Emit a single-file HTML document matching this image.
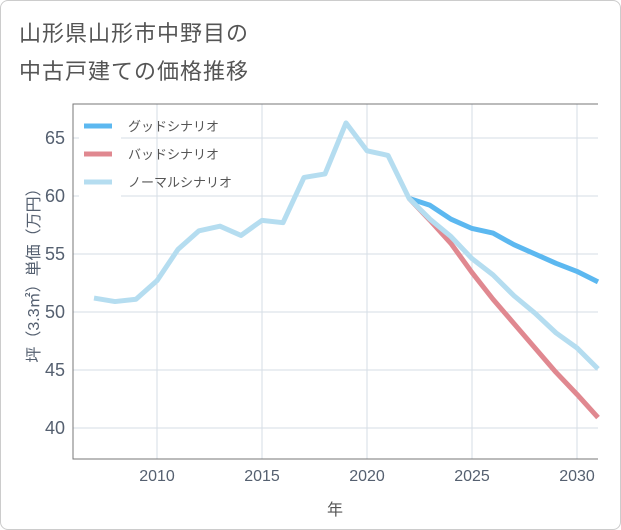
<!DOCTYPE html>
<html><head><meta charset="utf-8"><style>
body{margin:0;background:#fff;font-family:"Liberation Sans","Noto Sans CJK JP",sans-serif;}
#wrap{position:relative;width:619px;height:528px;border:1px solid #ccc;border-radius:8px;background:#fff;overflow:hidden}
.t{position:absolute;left:18px;color:#555;font-size:22px;letter-spacing:1px}
</style></head><body>
<div id="wrap">
<div class="t" style="top:15px">山形県山形市中野目の</div>
<div class="t" style="top:53px">中古戸建ての価格推移</div>
<svg id="c" width="621" height="530" style="position:absolute;left:0;top:0"></svg>
</div>
<script>
const years=[2007,2008,2009,2010,2011,2012,2013,2014,2015,2016,2017,2018,2019,2020,2021,2022,2023,2024,2025,2026,2027,2028,2029,2030,2031];
const normal=[51.2,50.9,51.1,52.7,55.4,57.0,57.4,56.6,57.9,57.7,61.6,61.9,66.3,63.9,63.5,59.8,58.0,56.5,54.6,53.2,51.4,49.9,48.2,46.9,45.1];
const goodYears=[2022,2023,2024,2025,2026,2027,2028,2029,2030,2031];
const good=[59.8,59.2,58.0,57.2,56.8,55.8,55.0,54.2,53.5,52.6];
const bad=[59.8,57.9,55.9,53.4,51.1,49.0,46.9,44.8,42.9,40.9];
const xTicks=[2010,2015,2020,2025,2030];
const yTicks=[40,45,50,55,60,65];
const NS='http://www.w3.org/2000/svg';
const svg=document.getElementById('c');
const L=72,R=597,T=103,B=458;
const x=y=>156+(y-2010)*21;
const yv=v=>195-(v-60)*11.6;
function mk(t,a){const e=document.createElementNS(NS,t);for(const k in a)e.setAttribute(k,a[k]);svg.appendChild(e);return e;}
xTicks.forEach(t=>{
 const g=mk('line',{x1:x(t),x2:x(t),y1:T,y2:B,stroke:'#d5dde6','stroke-width':1});
 
 
 const l=mk('text',{x:x(t),y:B+22,'text-anchor':'middle','font-size':16,fill:'#556070'});l.textContent=t;
 
 
});
yTicks.forEach(t=>{
 const g=mk('line',{x1:L,x2:R,y1:yv(t),y2:yv(t),stroke:'#d5dde6','stroke-width':1});
 
 
 const l=mk('text',{x:L-8,y:yv(t)+6,'text-anchor':'end','font-size':18,fill:'#556070'});l.textContent=t;
 
 
});
const ax=mk('path',{d:`M${R},${T}H${L}V${B}H${R}`,fill:'none',stroke:'#777','stroke-width':1});


function line(xs,vs,col,name){
 const p=mk('polyline',{points:xs.map((yr,i)=>x(yr)+','+yv(vs[i])).join(' '),fill:'none',stroke:col,'stroke-width':5,'stroke-linejoin':'round'});
 
 
}
line(goodYears,good,'#5cb8f0','good-scenario-line');
line(goodYears,bad,'#e08890','bad-scenario-line');
line(years,normal,'#b5ddf0','normal-scenario-line');
const lb=mk('rect',{x:78,y:110,width:42,height:86,fill:'#fff'});


[['グッドシナリオ','#5cb8f0'],['バッドシナリオ','#e08890'],['ノーマルシナリオ','#b5ddf0']].forEach((d,i)=>{
 const yy=125+i*28;
 const s=mk('line',{x1:83,x2:111,y1:yy,y2:yy,stroke:d[1],'stroke-width':5});
 
 
 const t=mk('text',{x:127,y:yy+5,'font-size':13,fill:'#555'});t.textContent=d[0];
 
 
});
const xt=mk('text',{x:334,y:514,'text-anchor':'middle','font-size':16,fill:'#555'});xt.textContent='年';


const yt=mk('text',{x:0,y:0,'text-anchor':'middle','font-size':16,fill:'#556070',transform:`translate(38,${(T+B)/2-10}) rotate(-90)`});yt.textContent='坪（3.3㎡）単価（万円）';


</script>
</body></html>
